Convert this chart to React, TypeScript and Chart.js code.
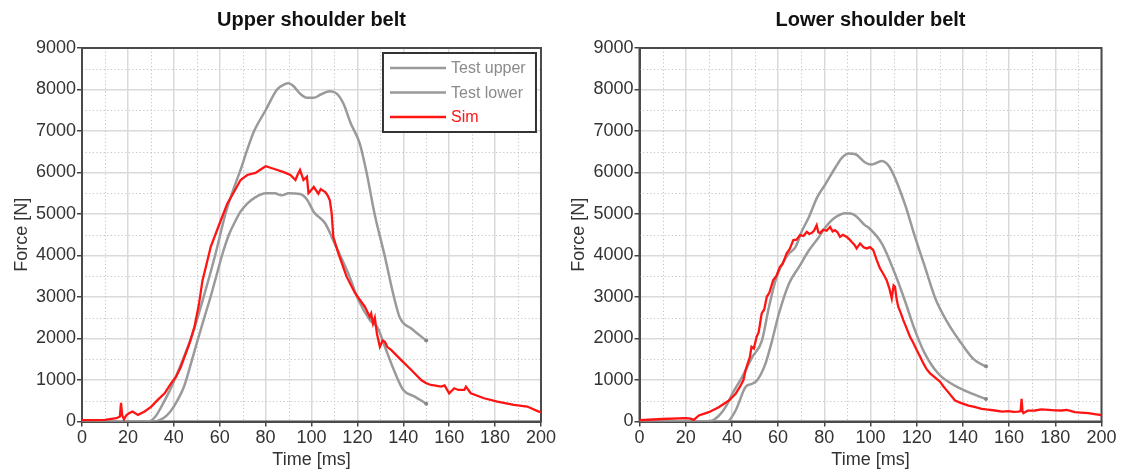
import React, { useEffect, useRef } from 'react';
import { Chart, registerables } from 'chart.js';

Chart.register(...registerables);

const FONT = '"Liberation Sans", Arial, sans-serif';

// [time ms, force N]
const upperTestUpper: [number, number][] = [
  [0, 0], [29, 0], [32, 120], [35, 400], [38, 720], [40.3, 1000], [44, 1500], [47.5, 2000],
  [53, 3000], [58, 4000], [62.5, 5000], [66, 5600], [69, 6050], [72, 6550], [75, 7000],
  [80, 7500], [85, 8000], [88, 8120], [90, 8150], [92, 8090], [95, 7900], [98, 7800],
  [101, 7800], [104, 7880], [108, 7960], [111, 7900], [114, 7650], [117, 7200], [121, 6700],
  [124, 6000], [127.5, 5000], [132, 3970], [135.5, 3100], [138.5, 2500], [143.5, 2240], [150, 1950],
];
const upperTestLower: [number, number][] = [
  [0, 0], [31, 0], [34, 40], [37, 150], [40, 360], [44.5, 850], [47.5, 1400], [50.6, 2000],
  [53, 2450], [56, 3000], [58.5, 3500], [61, 4000], [64, 4500], [67, 4850], [69, 5050],
  [72, 5250], [75.5, 5400], [80, 5500], [84, 5500], [87, 5450], [90, 5500], [95, 5480],
  [98, 5350], [101, 5050], [106, 4770], [110, 4300], [116, 3570], [120.5, 2920], [125.5, 2440],
  [129, 2240], [132, 1800], [136.5, 1160], [140, 760], [145, 600], [150, 430],
];
const upperSim: [number, number][] = [
  [0, 30], [10, 40], [15, 80], [16.5, 120], [17, 450], [17.5, 150], [18.3, 50], [19.3, 150],
  [20.5, 200], [22, 240], [24.4, 160], [27.3, 240], [30.2, 360], [33, 520], [36, 680],
  [38.8, 920], [41, 1080], [43.1, 1320], [46.8, 1880], [49, 2280], [51, 2840], [52.5, 3400],
  [54, 3730], [56.1, 4210], [58.3, 4530], [60.5, 4850], [63.3, 5250], [66.2, 5530], [69.1, 5820],
  [72, 5940], [75.6, 5990], [78, 6080], [80, 6150], [83.5, 6090], [87.9, 6010], [90.8, 5940],
  [93, 5820], [94, 5950], [95, 6060], [96.5, 5820], [98, 5900], [98.7, 5500], [99.4, 5540],
  [101, 5650], [103, 5490], [104, 5600], [106, 5530], [107, 5450], [108, 5330], [108.8, 5010],
  [109.5, 4450], [111.7, 4050], [115.3, 3490], [119, 3090], [123.3, 2760], [125.4, 2520],
  [126, 2600], [126.8, 2360], [127.6, 2500], [128.5, 2120], [129.8, 1800], [131, 1950],
  [132, 1920], [133, 1800], [134.8, 1720], [139.1, 1480], [143.5, 1240], [147.8, 1000],
  [150, 920], [152.1, 880], [156.5, 840], [158, 870], [160, 680], [162.2, 800], [164, 760],
  [166.6, 760], [167.3, 840], [169.4, 680], [175.2, 560], [181, 480], [188.2, 400], [194, 360],
  [199, 240], [200, 230],
];

const lowerTestUpper: [number, number][] = [
  [0, 0], [30, 0], [34, 120], [38, 420], [40, 650], [44.4, 1070], [48.8, 1550], [53, 1950],
  [56, 2750], [58.9, 3400], [61.8, 3800], [64.6, 4040], [67.5, 4200], [70.4, 4600], [73.3, 4920],
  [76.9, 5400], [80.5, 5720], [84.8, 6120], [87.7, 6360], [90.6, 6460], [93.5, 6440], [97.7, 6240],
  [100.4, 6190], [102.5, 6230], [104.9, 6280], [107, 6220], [109.2, 6040], [114.9, 5240],
  [119.3, 4440], [123.6, 3720], [127.9, 2990], [133.7, 2350], [139.5, 1870], [144.5, 1510],
  [148.9, 1350], [150, 1330],
];
const lowerTestLower: [number, number][] = [
  [0, 0], [37.9, 0], [41.6, 265], [45.9, 830], [48.8, 910], [51, 1000], [54.5, 1390], [57.4, 1950],
  [60.3, 2590], [64.6, 3310], [69, 3720], [73.3, 4120], [77.6, 4440], [80.5, 4680], [84.8, 4920],
  [89.2, 5020], [91.5, 5010], [93.5, 4960], [97.8, 4720], [99, 4680], [105, 4280], [110.6, 3560],
  [114.9, 2910], [119.3, 2190], [123.6, 1630], [129.4, 1150], [135.1, 910], [142.4, 706], [150, 540],
];
const lowerSim: [number, number][] = [
  [0, 30], [9.8, 60], [20, 80], [22, 70], [23.5, 40], [25.7, 145], [30, 225], [34.3, 345],
  [38.7, 505], [41.6, 666], [43.5, 838], [45, 1000], [46, 1250], [47.8, 1560], [48.5, 1800],
  [49.5, 1760], [50.7, 2040], [51.6, 2150], [52.9, 2605], [54, 2700], [55.1, 3005], [56.2, 3100],
  [57.9, 3407], [59.2, 3500], [60.8, 3727], [62, 3800], [63.7, 4050], [65, 4150], [66.6, 4370],
  [68, 4380], [69.5, 4490], [71, 4470], [72.4, 4570], [73.5, 4520], [74.5, 4540], [75.6, 4600],
  [76.7, 4730], [77.4, 4560], [78.1, 4540], [79.5, 4620], [81, 4595], [82.5, 4690], [83.6, 4580],
  [84.6, 4610], [85.7, 4560], [86.8, 4450], [88, 4500], [89.6, 4450], [90.7, 4400], [91.8, 4330],
  [93, 4260], [94, 4170], [95.5, 4290], [97, 4200], [98.4, 4170], [99.8, 4200], [101.2, 4130],
  [102.7, 3890], [104.1, 3690], [105.5, 3560], [107, 3407], [108.2, 3200], [109.2, 2966],
  [110, 3280], [110.6, 3246], [111.3, 2950], [112, 2765], [113.2, 2600], [114.2, 2444],
  [115.6, 2250], [117.1, 2042], [118.5, 1900], [120, 1722], [121.5, 1560], [122.9, 1400],
  [124.3, 1260], [125.8, 1160], [128, 1060], [130.1, 960], [131.5, 850], [133, 750], [136.6, 505],
  [139, 450], [142.4, 385], [145, 350], [148.1, 305], [150, 290], [153.9, 265], [157, 240],
  [159.7, 250], [162, 230], [164, 240], [165, 250], [165.4, 545], [165.8, 250], [166.2, 200],
  [168, 260], [171.2, 265], [174, 290], [177, 280], [180, 270], [182.8, 265], [185, 280],
  [188.5, 225], [191, 215], [194.3, 200], [197, 180], [199.3, 160], [200, 150],
];

const seriesLabels = ['Test upper', 'Test lower', 'Sim'];
const timeRange = [0, 200];
const forceRange = [0, 9000];
const timeStep = 20;
const forceStep = 1000;

const GRAY = '#9a9a9a';
const RED = '#ff1414';

// minor dotted grid, plot frame, centred title and in-plot legend
const framePlugin = {
  id: 'frame',
  beforeDatasetsDraw(chart: any) {
    const { ctx, chartArea: a, scales } = chart;
    const x = scales.x, y = scales.y;
    ctx.save();
    ctx.strokeStyle = '#c4c4c4';
    ctx.lineWidth = 1;
    ctx.setLineDash([1.2, 2.4]);
    for (let t = timeRange[0] + timeStep / 2; t < timeRange[1]; t += timeStep) {
      const px = Math.round(x.getPixelForValue(t)) + 0.5;
      ctx.beginPath(); ctx.moveTo(px, a.top); ctx.lineTo(px, a.bottom); ctx.stroke();
    }
    for (let f = forceRange[0] + forceStep / 2; f < forceRange[1]; f += forceStep) {
      const py = Math.round(y.getPixelForValue(f)) + 0.5;
      ctx.beginPath(); ctx.moveTo(a.left, py); ctx.lineTo(a.right, py); ctx.stroke();
    }
    ctx.setLineDash([]);
    ctx.strokeStyle = '#4a4a4a';
    ctx.lineWidth = 2;
    ctx.strokeRect(a.left, a.top, a.right - a.left, a.bottom - a.top);
    ctx.restore();
  },
  afterDraw(chart: any, _args: any, opts: any) {
    const { ctx, chartArea: a } = chart;
    ctx.save();
    ctx.fillStyle = '#111';
    ctx.font = `bold 20px ${FONT}`;
    ctx.textAlign = 'center';
    ctx.textBaseline = 'middle';
    ctx.fillText(opts.title, (a.left + a.right) / 2, 20);

    if (opts.legend) {
      const w = 153, h = 79;
      const left = a.right - 5 - w, top = a.top + 5;
      ctx.fillStyle = '#fff';
      ctx.fillRect(left, top, w, h);
      ctx.strokeStyle = '#333';
      ctx.lineWidth = 2;
      ctx.strokeRect(left, top, w, h);
      ctx.font = `16px ${FONT}`;
      ctx.textAlign = 'left';
      chart.data.datasets.forEach((ds: any, i: number) => {
        const yy = top + 15 + i * 24.5;
        ctx.strokeStyle = ds.borderColor;
        ctx.lineWidth = ds.borderWidth;
        ctx.beginPath(); ctx.moveTo(left + 7, yy); ctx.lineTo(left + 63, yy); ctx.stroke();
        ctx.fillStyle = i === 2 ? RED : '#8a8a8a';
        ctx.fillText(ds.label, left + 68, yy + 1);
      });
    }
    ctx.restore();
  },
};

function makeConfig(title: string, series: [number, number][][], legend: boolean, padRight: number, axisWidth: number): any {
  const colors = [GRAY, GRAY, RED];
  const tickFont = { family: FONT, size: 18 };
  return {
    type: 'line',
    data: {
      datasets: series.map((pts, i) => ({
        label: seriesLabels[i],
        data: pts.map(([t, f]) => ({ x: t, y: f })),
        borderColor: colors[i],
        backgroundColor: colors[i],
        borderWidth: i === 2 ? 2.3 : 2.5,
        cubicInterpolationMode: i === 2 ? 'default' : 'monotone',
        tension: i === 2 ? 0 : 0.4,
        pointRadius: (c: any) => (i < 2 && c.dataIndex === pts.length - 1 ? 2 : 0),
        pointBackgroundColor: '#888',
        pointBorderWidth: 0,
        order: i === 2 ? 0 : 1,
      })),
    },
    options: {
      responsive: false,
      animation: false,
      layout: { padding: { top: 48, right: padRight, bottom: 0, left: 0 } },
      plugins: {
        legend: { display: false },
        title: { display: false },
        tooltip: { enabled: false },
        frame: { title, legend },
      },
      scales: {
        x: {
          type: 'linear',
          min: timeRange[0],
          max: timeRange[1],
          afterFit: (s: any) => { s.height = 53.5; },
          ticks: { stepSize: timeStep, color: '#333', font: tickFont, padding: 1, maxRotation: 0, callback: (v: any) => String(v) },
          grid: { color: '#dadada', lineWidth: 1.5, tickColor: '#444', tickLength: 5, tickWidth: 1.5 },
          border: { display: true, color: '#4a4a4a', width: 2 },
          title: { display: true, text: 'Time [ms]', color: '#333', font: { family: FONT, size: 18 }, padding: { top: 0, bottom: 4 } },
        },
        y: {
          type: 'linear',
          min: forceRange[0],
          max: forceRange[1],
          afterFit: (s: any) => { s.width = axisWidth; },
          ticks: { stepSize: forceStep, color: '#333', font: tickFont, padding: 1, callback: (v: any) => String(v) },
          grid: { color: '#dadada', lineWidth: 1.5, tickColor: '#444', tickLength: 5, tickWidth: 1.5 },
          border: { display: true, color: '#4a4a4a', width: 2 },
          title: { display: true, text: 'Force [N]', color: '#333', font: { family: FONT, size: 18 }, padding: { top: 11, bottom: 0 } },
        },
      },
    },
    plugins: [framePlugin],
  };
}

const BeltChart: React.FC<{ title: string; series: [number, number][][]; legend: boolean; width: number; padRight: number; axisWidth: number }> = ({ title, series, legend, width, padRight, axisWidth }) => {
  const canvasRef = useRef<HTMLCanvasElement>(null);

  useEffect(() => {
    if (!canvasRef.current) return;
    const chart = new Chart(canvasRef.current, makeConfig(title, series, legend, padRight, axisWidth));
    return () => chart.destroy();
  }, [title, series, legend, padRight, axisWidth]);

  return <canvas ref={canvasRef} width={width} height={475} style={{ display: 'block' }} />;
};

export default function App() {
  return (
    <div style={{ position: 'fixed', left: 0, top: 0, width: 1123, height: 475, background: '#fff', display: 'flex' }}>
      <div style={{ width: 557 }}>
        <BeltChart title="Upper shoulder belt" series={[upperTestUpper, upperTestLower, upperSim]} legend width={557} padRight={14} axisWidth={82} />
      </div>
      <div style={{ width: 566 }}>
        <BeltChart title="Lower shoulder belt" series={[lowerTestUpper, lowerTestLower, lowerSim]} legend={false} width={566} padRight={21.5} axisWidth={82.5} />
      </div>
    </div>
  );
}
